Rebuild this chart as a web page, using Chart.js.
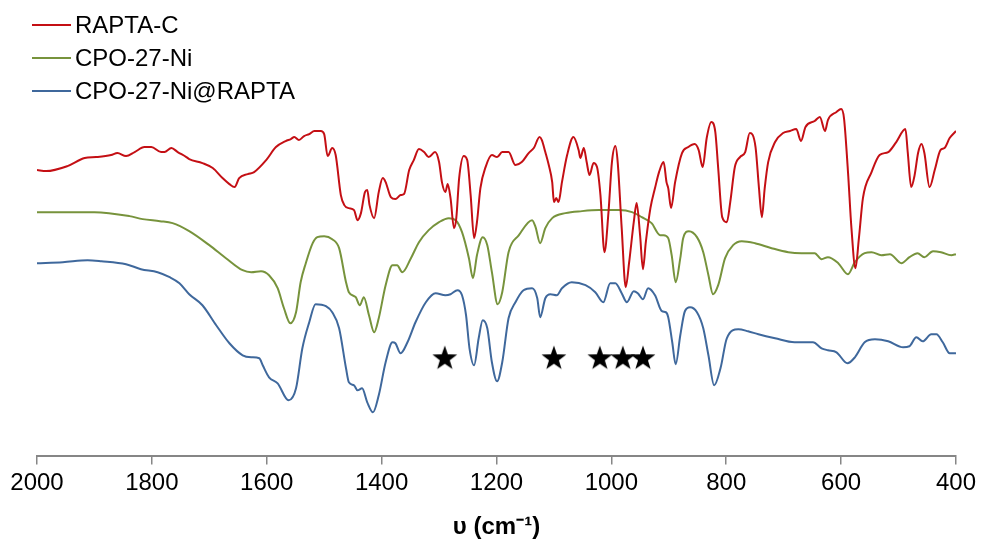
<!DOCTYPE html>
<html>
<head>
<meta charset="utf-8">
<script src="https://cdn.jsdelivr.net/npm/chart.js@4.4.1/dist/chart.umd.min.js"></script>
<style>
  html, body { margin: 0; padding: 0; background: #fff; }
  #wrap { width: 981px; height: 542px; }
</style>
</head>
<body>
<div id="wrap"><canvas id="ir"></canvas></div>
<script>
// x axis ticks (wavenumber, cm-1)
const xTicks = [2000, 1800, 1600, 1400, 1200, 1000, 800, 600, 400];

// RAPTA-C
const raptaWn = [
  2000,1984,1947,1917,1897,1871,1860,1845,1830,1813,
  1801,1784,1778,1766,1755,1740,1735,1712,1694,1677,
  1665,1656,1648,1633,1622,1601,1584,1567,1558,1552,
  1544,1535,1526,1517,1506,1500,1494,1486,1480,1471,
  1465,1457,1448,1442,1436,1429,1425,1421,1413,1405,
  1398,1393,1384,1376,1367,1361,1352,1344,1335,1326,
  1318,1307,1300,1295,1289,1285,1280,1274,1270,1265,
  1257,1251,1245,1239,1234,1228,1219,1208,1199,1190,
  1179,1167,1156,1144,1135,1125,1121,1115,1109,1103,
  1100,1096,1092,1086,1077,1066,1057,1054,1048,1043,
  1038,1031,1025,1019,1012,1005,999,993,989,982,
  975,969,961,956,950,945,940,932,924,917,
  909,904,901,896,889,877,866,855,848,841,
  834,826,819,814,807,799,793,785,776,767,
  759,749,743,738,733,727,715,701,689,678,
  670,662,646,637,628,623,608,600,595,588,
  582,575,569,562,547,533,518,504,488,484,
  478,472,466,460,455,446,437,427,420,411,
  400];
const raptaT = [
  286,285,290,298,299,301,303,300,304,309,
  309,304,304,308,304,299,297,293,288,278,
  272,269,278,282,284,296,309,315,317,319,
  316,320,322,325,325,322,300,308,301,261,
  251,248,246,236,243,264,266,251,238,264,
  278,274,259,257,261,262,286,296,307,304,
  299,304,294,274,264,272,258,228,238,278,
  300,296,261,218,234,268,289,301,299,304,
  304,291,294,303,308,319,316,304,291,274,
  254,258,254,274,301,319,306,298,308,294,
  281,293,289,261,204,244,294,310,294,228,
  169,194,234,253,221,187,214,248,268,284,
  294,274,268,248,274,303,309,312,306,289,
  318,334,324,288,239,234,254,289,299,304,
  323,309,268,239,268,294,314,323,325,327,
  315,329,335,339,325,336,344,347,338,284,
  228,188,218,258,284,301,304,314,327,304,
  269,281,303,312,303,269,286,306,308,318,
  325];

// CPO-27-Ni
const cpoWn = [
  2000,1900,1839,1816,1786,1764,1735,1700,1671,1642,
  1627,1610,1596,1581,1570,1559,1549,1541,1532,1520,
  1512,1500,1486,1474,1462,1457,1445,1438,1431,1422,
  1413,1405,1393,1381,1373,1364,1349,1335,1318,1300,
  1283,1271,1260,1248,1241,1234,1224,1216,1208,1198,
  1190,1179,1161,1138,1132,1124,1115,1103,1080,1051,
  1022,987,964,947,930,915,909,901,895,888,
  880,875,865,851,840,831,823,814,802,788,
  773,750,721,692,669,646,634,623,605,588,
  576,559,547,530,515,495,481,467,455,440,
  426,408,400];
const cpoT = [
  244,244,240,237,235,233,225,211,198,186,
  184,185,181,168,148,133,144,174,193,213,
  219,220,217,208,174,164,159,151,159,141,
  124,138,171,191,191,184,198,214,226,234,
  238,236,224,198,178,201,219,211,184,152,
  164,204,221,236,229,213,228,238,243,245,
  246,246,244,239,233,221,221,218,201,174,
  198,218,225,219,204,181,162,171,198,211,
  215,213,208,204,203,203,197,199,193,182,
  194,203,204,201,202,193,199,203,199,205,
  204,201,202];

// CPO-27-Ni@RAPTA
const loadWn = [
  2000,1955,1912,1888,1845,1819,1790,1769,1752,1735,
  1712,1688,1665,1642,1627,1613,1607,1596,1581,1562,
  1549,1538,1526,1515,1497,1486,1474,1462,1457,1448,
  1442,1434,1425,1415,1405,1393,1381,1376,1367,1355,
  1341,1323,1306,1289,1280,1268,1260,1253,1247,1239,
  1231,1224,1216,1208,1199,1190,1179,1167,1153,1138,
  1129,1124,1115,1106,1095,1086,1069,1045,1028,1014,
  1002,993,982,973,961,954,945,936,924,912,
  905,901,894,888,880,872,863,851,840,831,
  821,810,799,779,762,744,715,681,649,634,
  623,608,589,576,559,541,518,492,481,469,
  458,443,434,423,411,400];
const loadT = [
  193,194,196,195,192,187,184,179,173,162,
  151,131,113,101,99,98,91,79,73,56,
  68,108,134,152,150,144,128,88,74,71,
  66,68,54,44,61,94,114,113,103,114,
  134,154,163,161,162,166,161,141,108,91,
  118,136,128,94,75,94,138,154,166,168,
  158,139,158,162,161,168,174,171,164,154,
  173,173,163,154,165,163,157,168,161,145,
  144,139,114,92,121,145,149,144,128,101,
  71,88,118,127,125,122,118,114,114,108,
  106,104,93,99,114,117,115,109,110,119,
  115,122,122,114,103,103];

// bands marked with a star
const starWn = [1290, 1100, 1020, 980, 945];
const starT = [99, 99, 99, 99, 99];

const pts = (wn, t) => wn.map((w, i) => ({ x: w, y: t[i] }));

// filled star used as point style
function makeStar(size) {
  const c = document.createElement("canvas");
  c.width = size; c.height = size;
  const g = c.getContext("2d");
  const R = size / 2, r = R * 0.4;
  const cx = size / 2, cy = size / 2 + R * 0.1;
  g.beginPath();
  for (let i = 0; i < 10; i++) {
    const rad = i % 2 === 0 ? R : r;
    const a = -Math.PI / 2 + i * Math.PI / 5;
    g.lineTo(cx + rad * Math.cos(a), cy + rad * Math.sin(a));
  }
  g.closePath();
  g.fillStyle = "#000";
  g.fill();
  return c;
}

const FONT = "'Liberation Sans', Arial, sans-serif";

// legend drawn as a stacked list at the top left
const stackLegend = {
  id: "stackLegend",
  afterDraw(chart) {
    const ctx = chart.ctx;
    ctx.save();
    ctx.font = "24px " + FONT;
    ctx.textBaseline = "middle";
    chart.data.datasets.slice(0, 3).forEach((ds, i) => {
      const y = 25 + i * 33;
      ctx.strokeStyle = ds.borderColor;
      ctx.lineWidth = 2;
      ctx.beginPath();
      ctx.moveTo(32, y);
      ctx.lineTo(71, y);
      ctx.stroke();
      ctx.fillStyle = "#000";
      ctx.fillText(ds.label, 75, y + 1);
    });
    ctx.restore();
  }
};

new Chart(document.getElementById("ir"), {
  type: "line",
  data: {
    datasets: [
      { label: "RAPTA-C", data: pts(raptaWn, raptaT), borderColor: "#C40F14" },
      { label: "CPO-27-Ni", data: pts(cpoWn, cpoT), borderColor: "#77933C" },
      { label: "CPO-27-Ni@RAPTA", data: pts(loadWn, loadT), borderColor: "#3F689C" },
      {
        label: "stars", data: pts(starWn, starT), showLine: false,
        pointStyle: makeStar(26), pointRadius: 12, borderColor: "#000"
      }
    ]
  },
  options: {
    responsive: true,
    maintainAspectRatio: false,
    animation: false,
    layout: { padding: { left: 37, right: 23, top: 100, bottom: 0 } },
    elements: {
      line: { borderWidth: 2, cubicInterpolationMode: "monotone", fill: false },
      point: { radius: 0 }
    },
    plugins: { legend: { display: false }, tooltip: { enabled: false } },
    scales: {
      x: {
        type: "linear",
        reverse: true,
        min: 400,
        max: 2000,
        afterBuildTicks: (axis) => { axis.ticks = xTicks.map(v => ({ value: v })); },
        ticks: {
          color: "#000",
          padding: 5,
          font: { family: FONT, size: 24 },
          callback: (v) => String(v)
        },
        grid: { drawOnChartArea: false, drawTicks: true, tickLength: 8, color: "#868686", lineWidth: 1.5 },
        border: { color: "#868686", width: 2 },
        title: {
          display: true,
          text: "υ (cm⁻¹)",
          color: "#000",
          font: { family: FONT, size: 24, weight: "bold" },
          padding: { top: 10, bottom: 0 }
        }
      },
      y: { display: false, min: 0, max: 356 }
    }
  },
  plugins: [stackLegend]
});
</script>
</body>
</html>
